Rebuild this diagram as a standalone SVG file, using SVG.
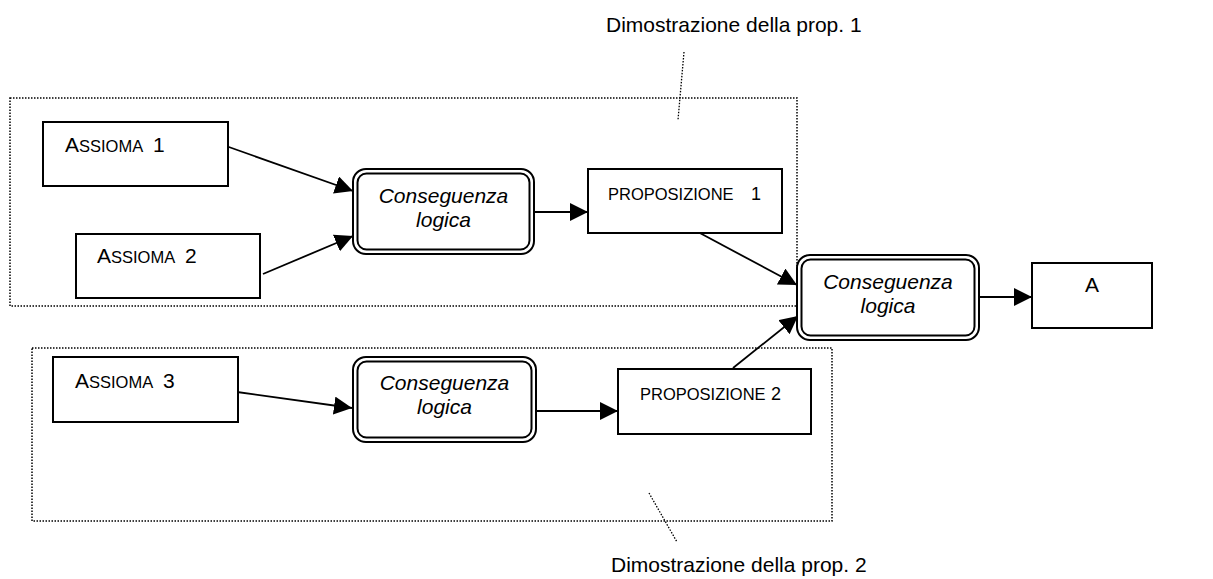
<svg xmlns="http://www.w3.org/2000/svg" width="1213" height="579" viewBox="0 0 1213 579">
  <style>
    text { font-family: "Liberation Sans", Arial, sans-serif; fill: #000; }
    .lbl { font-size: 21px; }
    .sc { font-size: 16.5px; }
    .it { font-size: 21px; font-style: italic; text-anchor: middle; }
    .box { fill: #fff; stroke: #000; stroke-width: 2; }
    .dbl { fill: #fff; stroke: #000; stroke-width: 2; }
    .group { fill: none; stroke: #000; stroke-width: 1.5; stroke-dasharray: 1.5 1.5; }
    .lead { fill: none; stroke: #000; stroke-width: 1.3; stroke-dasharray: 1.5 1.5; }
    .conn { fill: none; stroke: #000; stroke-width: 1.8; marker-end: url(#arrow); }
  </style>
  <defs>
    <marker id="arrow" markerUnits="userSpaceOnUse" markerWidth="20" markerHeight="20" refX="18" refY="9" orient="auto">
      <path d="M0,0 L18,9 L0,18 z" fill="#000"/>
    </marker>
  </defs>
  <rect width="1213" height="579" fill="#fff"/>

  <!-- proof regions (dotted frames) with their captions -->
  <g id="proof1">
    <rect class="group" x="10" y="98" width="787" height="208"/>
    <line class="lead" x1="684" y1="52" x2="678" y2="120"/>
    <text class="lbl" x="606" y="32">Dimostrazione della prop. 1</text>
  </g>
  <g id="proof2">
    <rect class="group" x="32" y="348" width="800" height="173"/>
    <line class="lead" x1="649" y1="493" x2="677" y2="542"/>
    <text class="lbl" x="611" y="572">Dimostrazione della prop. 2</text>
  </g>

  <!-- connectors -->
  <g id="connectors">
    <line class="conn" x1="226" y1="146" x2="353" y2="191"/>
    <line class="conn" x1="263" y1="274" x2="353" y2="236"/>
    <line class="conn" x1="534" y1="212" x2="588" y2="212"/>
    <line class="conn" x1="698" y1="232" x2="797" y2="285"/>
    <line class="conn" x1="733" y1="368" x2="798" y2="316"/>
    <line class="conn" x1="979" y1="297" x2="1032" y2="297"/>
    <line class="conn" x1="237" y1="392" x2="352" y2="408"/>
    <line class="conn" x1="536" y1="411" x2="618" y2="411"/>
  </g>

  <!-- axioms -->
  <g id="assioma1">
    <rect class="box" x="43" y="122" width="185" height="64"/>
    <text class="lbl" x="65" y="152">A<tspan class="sc">SSIOMA</tspan></text>
    <text class="lbl" x="153" y="152">1</text>
  </g>
  <g id="assioma2">
    <rect class="box" x="76" y="234" width="184" height="64"/>
    <text class="lbl" x="97" y="263">A<tspan class="sc">SSIOMA</tspan></text>
    <text class="lbl" x="185" y="263">2</text>
  </g>
  <g id="assioma3">
    <rect class="box" x="53" y="357" width="185" height="65"/>
    <text class="lbl" x="75" y="388">A<tspan class="sc">SSIOMA</tspan></text>
    <text class="lbl" x="163" y="388">3</text>
  </g>

  <!-- logical consequences (double rounded frame) -->
  <g id="conseguenza1">
    <rect class="dbl" x="353" y="169" width="181" height="85" rx="13"/>
    <rect class="dbl" x="357.5" y="173.5" width="172" height="76" rx="9"/>
    <text class="it" x="443.5" y="203">Conseguenza</text>
    <text class="it" x="443.5" y="227">logica</text>
  </g>
  <g id="conseguenza2">
    <rect class="dbl" x="797" y="255" width="182" height="85" rx="13"/>
    <rect class="dbl" x="801.5" y="259.5" width="173" height="76" rx="9"/>
    <text class="it" x="888" y="289">Conseguenza</text>
    <text class="it" x="888" y="313">logica</text>
  </g>
  <g id="conseguenza3">
    <rect class="dbl" x="353" y="357" width="183" height="85" rx="13"/>
    <rect class="dbl" x="357.5" y="361.5" width="174" height="76" rx="9"/>
    <text class="it" x="444.5" y="390">Conseguenza</text>
    <text class="it" x="444.5" y="414">logica</text>
  </g>

  <!-- propositions -->
  <g id="proposizione1">
    <rect class="box" x="588" y="169" width="194" height="64"/>
    <text class="sc" x="608" y="200">PROPOSIZIONE</text>
    <text class="lbl" x="751" y="200" style="font-size:18px">1</text>
  </g>
  <g id="proposizione2">
    <rect class="box" x="618" y="369" width="193" height="65"/>
    <text class="sc" x="640" y="400">PROPOSIZIONE</text>
    <text class="lbl" x="771" y="400" style="font-size:18px">2</text>
  </g>

  <!-- conclusion -->
  <g id="tesiA">
    <rect class="box" x="1032" y="263" width="120" height="65"/>
    <text class="lbl" x="1085" y="292">A</text>
  </g>
</svg>
